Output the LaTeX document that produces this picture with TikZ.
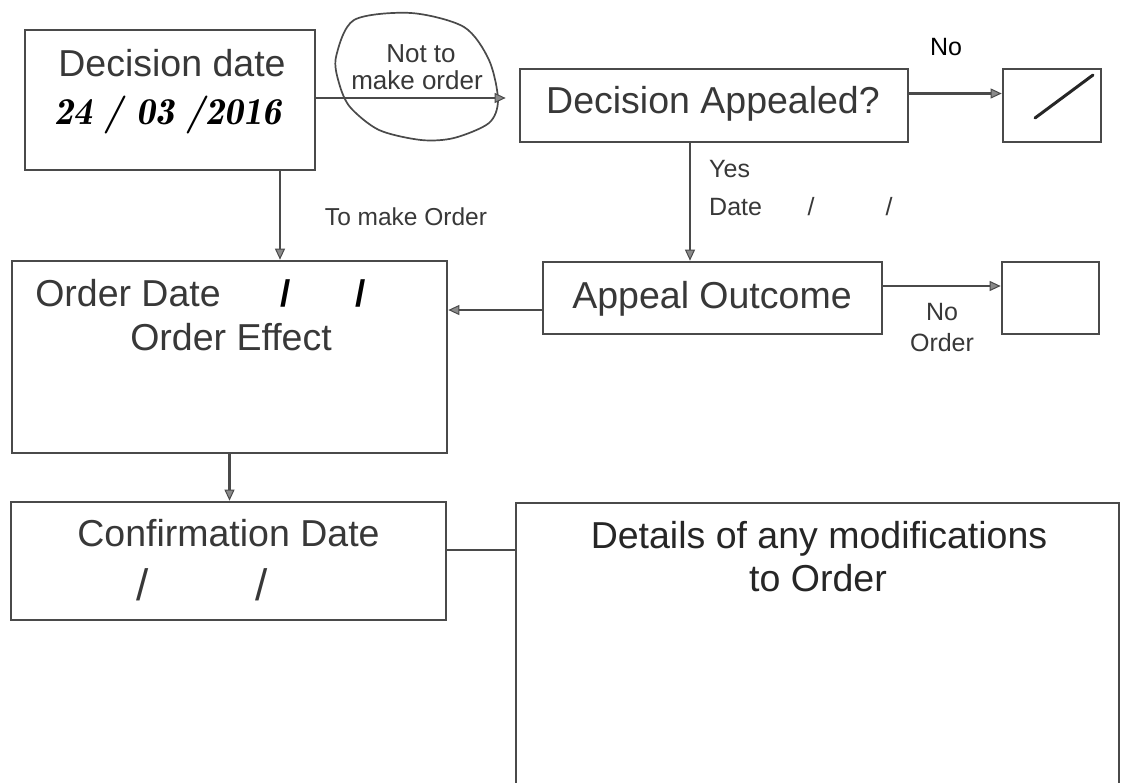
\documentclass[tikz,border=0pt]{standalone}
\usepackage{fontspec}
\setmainfont{Liberation Sans}
\usetikzlibrary{arrows.meta,calc}
\definecolor{boxc}{HTML}{4A4A4A}
\definecolor{txtc}{HTML}{383838}
\definecolor{tipc}{HTML}{8A8A8A}
\newcommand{\fsz}[1]{\fontsize{#1}{#1}\selectfont}
\tikzset{
  box/.style={draw=boxc, line width=2.7pt, inner sep=0pt},
  big/.style={text=txtc, inner sep=0pt, font=\fsz{37.5}},
  lab/.style={text=txtc, inner sep=0pt, font=\fsz{25}},
  hand/.style={text=black, inner sep=0pt, font=\fontfamily{lmr}\bfseries\itshape\fsz{38}},
  arr/.style={draw=boxc, line width=2.2pt, -{Triangle[length=11pt,width=10pt,fill=tipc,line width=1pt]}},
  plain/.style={draw=boxc, line width=2.6pt}
}
\begin{document}
\begin{tikzpicture}[x=1pt,y=-1pt]
\useasboundingbox (0,0) rectangle (1121,782);
\fill[white] (0,0) rectangle (1121,782);
% boxes
\node[box, minimum width=290pt, minimum height=140pt] (dd) at (170,100) {};
\node[box, minimum width=388pt, minimum height=73pt] (da) at (714,105.5) {};
\node[box, minimum width=98pt, minimum height=73pt] (nb1) at (1052,105.5) {};
\node[box, minimum width=339pt, minimum height=72pt] (ao) at (712.5,298) {};
\node[box, minimum width=97pt, minimum height=72pt] (nb2) at (1050.5,298) {};
\node[box, minimum width=435pt, minimum height=192pt] (od) at (229.5,357) {};
\node[box, minimum width=435pt, minimum height=118pt] (cd) at (228.5,561) {};
\node[box, minimum width=603pt, minimum height=300pt] (det) at (817.5,653) {};
% texts
\node[big] (t1) at (172,63) {Decision date};
\node[hand] (t2) at (168,115) {24 / 03 /2016};
\node[lab, font=\fsz{26}] (t3) at (421,54) {Not to};
\node[lab, font=\fsz{26}] (t4) at (417,80) {make order};
\node[big] (t5) at (713,104) {Decision Appealed?};
\node[lab, text=black] (t6) at (946,47) {No};
\node[lab, anchor=west] (t7) at (709,169) {Yes};
\node[lab, anchor=west] (t8) at (709,207) {Date};
\node[lab] (t9) at (811,207) {/};
\node[lab] (t10) at (889,207) {/};
\node[lab, font=\fsz{24.5}] (t11) at (406,217) {To make Order};
\node[big] (t12) at (128,293) {Order Date};
\node[big, text=black, font=\bfseries\fsz{37}] (t13) at (286,293) {/};
\node[big, text=black, font=\bfseries\fsz{37}] (t14) at (361,293) {/};
\node[big] (t15) at (231,337) {Order Effect};
\node[big] (t16) at (712,299) {Appeal Outcome};
\node[lab] (t17) at (942,312) {No};
\node[lab] (t18) at (942,343) {Order};
\node[big] (t19) at (228.5,533) {Confirmation Date};
\node[big, font=\fsz{44}] (t20) at (143,585) {/};
\node[big, font=\fsz{44}] (t21) at (262,585) {/};
\node[big, text=black!85] (t22) at (819,539) {Details of any modifications};
\node[big, text=black!85] (t23) at (818,578) {to Order};
% loop around the "Not to make order" label
\draw[draw=boxc, line width=1.7pt] plot[smooth cycle] coordinates {(354,20) (411,13) (464,27) (489,60) (498,100) (489,123) (454,138) (421,140) (379,130) (350,107) (339,83) (336,57)};
% pen stroke in the "No" box
\draw[black!85, line width=3pt, line cap=round] (1035,118) .. controls (1062,98) .. (1093,75);
% connectors
\draw[arr, shorten >=13pt] ([yshift=2pt]dd.east) -- ([yshift=2pt]dd.east -| da.west);
\draw[arr] ([yshift=12pt]da.east) -- ([yshift=12pt]da.east -| nb1.west);
\draw[arr] ([xshift=-24pt]da.south) -- ([xshift=-24pt]da.south |- ao.north);
\draw[arr] ([xshift=110pt]dd.south) -- ([xshift=110pt]dd.south |- od.north);
\draw[arr] ([yshift=-12pt]ao.west) -- ([yshift=-12pt]ao.west -| od.east);
\draw[arr] ([yshift=12pt]ao.east) -- ([yshift=12pt]ao.east -| nb2.west);
\draw[arr] (od.south) -- (od.south |- cd.north);
\draw[plain] ([yshift=11pt]cd.east) -- ([yshift=11pt]cd.east -| det.west);
\end{tikzpicture}
\end{document}
